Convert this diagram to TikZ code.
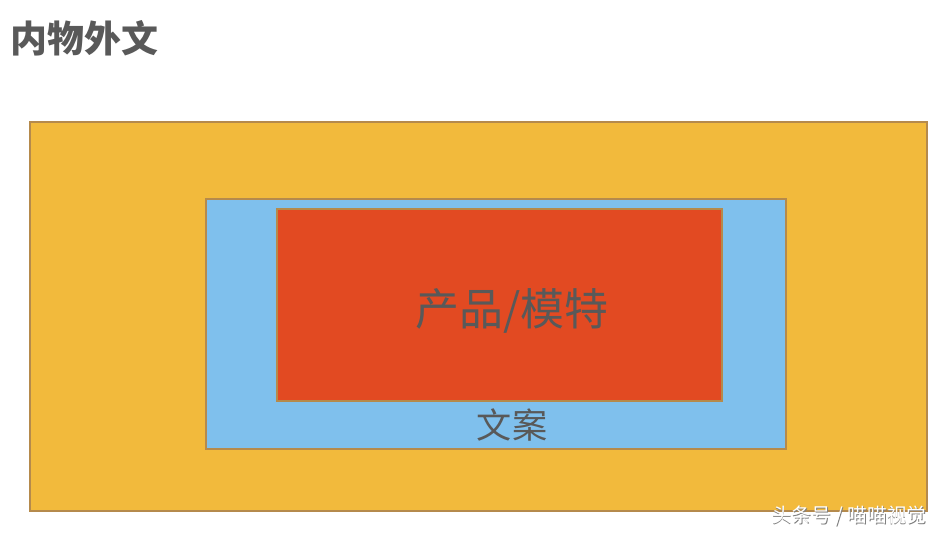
\documentclass[tikz,border=0pt]{standalone}
\usepackage{fontspec}
\newfontfamily\cjk{Noto Sans CJK SC}
\usepackage{tikz}
\usetikzlibrary{backgrounds}
\definecolor{frameorange}{HTML}{F2BA3C}
\definecolor{copyblue}{HTML}{7FC0ED}
\definecolor{itemred}{HTML}{E24A22}
\definecolor{edgebrown}{HTML}{B58A4C}
\definecolor{textgrey}{HTML}{595959}
\tikzset{
	box/.style = {draw = edgebrown, line width = .4pt},
	label/.style = {text = textgrey, inner sep = 0pt}
}

\begin{document}
\begin{tikzpicture}[x = .01cm, y = -.01cm]
	\useasboundingbox (0,0) rectangle (940,533);
	\fill[white] (0,0) rectangle (940,533);
	\draw[box, fill = frameorange] (30,122) rectangle (927,511);
	\draw[box, fill = copyblue] (206,199) rectangle (786,449);
	\draw[box, fill = itemred] (277,209) rectangle (722,401);
	\node[label, anchor = west] (title) at (10,38) {\cjk\fontsize{10.5pt}{12pt}\selectfont\bfseries 内物外文};
	\node[label] (item) at (512,311) {\cjk\fontsize{12.5pt}{15pt}\selectfont 产品/模特};
	\node[label] (copy) at (512,425) {\cjk\fontsize{10pt}{12pt}\selectfont 文案};
	\node[inner sep = 0pt, anchor = east, text = gray] (markshade) at (928,517) {\cjk\fontsize{5.6pt}{7pt}\selectfont 头条号 / 喵喵视觉};
	\node[inner sep = 0pt, anchor = east, text = white] (mark) at (927.3,516.3) {\cjk\fontsize{5.6pt}{7pt}\selectfont 头条号 / 喵喵视觉};
\end{tikzpicture}
\end{document}
